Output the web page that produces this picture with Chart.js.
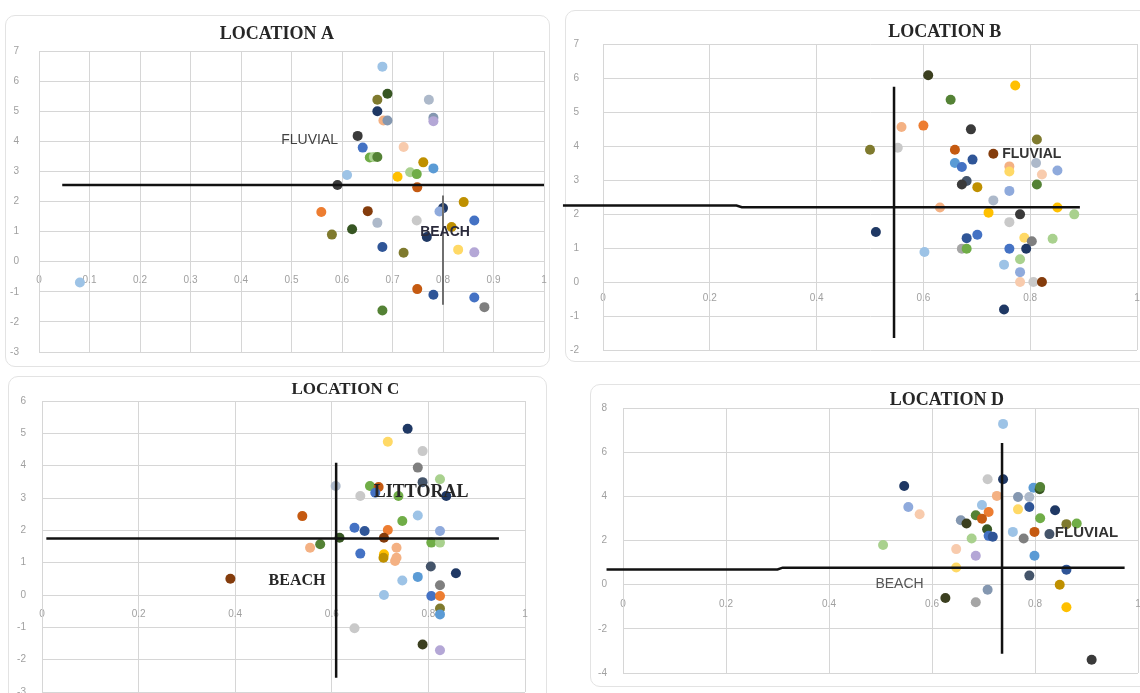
<!DOCTYPE html>
<html>
<head>
<meta charset="utf-8">
<title>Locations A-D</title>
<script src="https://cdn.jsdelivr.net/npm/chart.js@4.4.1/dist/chart.umd.min.js"></script>
<style>
  body { margin: 0; width: 1140px; height: 693px; overflow: hidden; background: #fff; position: relative; }
  .card { position: absolute; border: 1px solid #e3e3e3; border-radius: 10px; background: #fff; }
  canvas { position: absolute; }
</style>
</head>
<body>
<div class="card" style="left:5px;top:15px;width:543px;height:350px"></div>
<div class="card" style="left:565px;top:10px;width:590px;height:350px"></div>
<div class="card" style="left:8px;top:376px;width:537px;height:340px"></div>
<div class="card" style="left:590px;top:384px;width:570px;height:301px"></div>
<canvas id="chartA" width="560" height="400" style="left:0;top:0"></canvas>
<canvas id="chartB" width="620" height="400" style="left:560px;top:0"></canvas>
<canvas id="chartC" width="560" height="380" style="left:0;top:370px"></canvas>
<canvas id="chartD" width="580" height="380" style="left:580px;top:370px"></canvas>
<script>
// ---- data ----
const locationA_x = [0.68, 0.69, 0.67, 0.772, 0.67, 0.682, 0.69, 0.781, 0.781, 0.631,
  0.641, 0.722, 0.655, 0.663, 0.67, 0.761, 0.781, 0.61, 0.71, 0.735,
  0.748, 0.591, 0.749, 0.841, 0.80, 0.793, 0.559, 0.651, 0.862, 0.748,
  0.67, 0.62, 0.58, 0.768, 0.817, 0.68, 0.722, 0.83, 0.862, 0.749,
  0.781, 0.862, 0.882, 0.68, 0.081];
const locationA_y = [6.48, 5.58, 5.38, 5.38, 5.0, 4.69, 4.69, 4.78, 4.67, 4.18,
  3.79, 3.81, 3.46, 3.48, 3.48, 3.3, 3.1, 2.88, 2.82, 2.97,
  2.91, 2.55, 2.47, 1.98, 1.78, 1.67, 1.65, 1.68, 1.37, 1.37,
  1.29, 1.08, 0.9, 0.82, 1.15, 0.49, 0.3, 0.4, 0.31, -0.91,
  -1.1, -1.19, -1.51, -1.62, -0.69];

const locationB_x = [0.609, 0.772, 0.651, 0.559, 0.600, 0.689, 0.8125, 0.5, 0.552, 0.659,
  0.731, 0.692, 0.659, 0.672, 0.761, 0.761, 0.811, 0.822, 0.851, 0.681,
  0.672, 0.701, 0.8125, 0.761, 0.731, 0.631, 0.722, 0.781, 0.851, 0.8825,
  0.761, 0.511, 0.681, 0.701, 0.789, 0.803, 0.842, 0.602, 0.672, 0.681,
  0.761, 0.7925, 0.781, 0.751, 0.781, 0.781, 0.806, 0.822, 0.751];
const locationB_y = [6.08, 5.78, 5.36, 4.56, 4.6, 4.49, 4.19, 3.89, 3.95, 3.89,
  3.77, 3.6, 3.5, 3.38, 3.4, 3.25, 3.5, 3.16, 3.28, 2.97,
  2.87, 2.79, 2.87, 2.68, 2.4, 2.19, 2.04, 1.99, 2.19, 1.99,
  1.76, 1.47, 1.29, 1.39, 1.3, 1.2, 1.27, 0.88, 0.98, 0.98,
  0.98, 0.98, 0.67, 0.51, 0.29, 0, 0, 0, -0.81];

const locationC_x = [0.757, 0.716, 0.788, 0.778, 0.824, 0.788, 0.608, 0.679, 0.697, 0.69,
  0.659, 0.738, 0.837, 0.539, 0.778, 0.746, 0.647, 0.668, 0.716, 0.824,
  0.616, 0.708, 0.576, 0.555, 0.806, 0.824, 0.734, 0.659, 0.708, 0.734,
  0.707, 0.731, 0.805, 0.857, 0.778, 0.746, 0.824, 0.708, 0.806, 0.824,
  0.824, 0.824, 0.647, 0.788, 0.824, 0.39];
const locationC_y = [5.14, 4.74, 4.45, 3.94, 3.58, 3.49, 3.37, 3.37, 3.34, 3.16,
  3.06, 3.06, 3.06, 2.44, 2.46, 2.29, 2.08, 1.98, 2.01, 1.98,
  1.77, 1.77, 1.57, 1.46, 1.62, 1.62, 1.46, 1.28, 1.26, 1.15,
  1.15, 1.05, 0.88, 0.67, 0.56, 0.45, 0.3, 0, -0.03, -0.03,
  -0.42, -0.6, -1.03, -1.53, -1.71, 0.5];

const locationD_x = [0.738, 0.708, 0.738, 0.546, 0.797, 0.809, 0.81, 0.726, 0.767, 0.789,
  0.554, 0.576, 0.697, 0.71, 0.767, 0.789, 0.839, 0.685, 0.697, 0.656,
  0.667, 0.81, 0.861, 0.881, 0.707, 0.71, 0.718, 0.757, 0.799, 0.828,
  0.778, 0.677, 0.505, 0.647, 0.685, 0.799, 0.647, 0.861, 0.789, 0.848,
  0.708, 0.626, 0.685, 0.861, 0.91];
const locationD_y = [7.28, 4.77, 4.77, 4.47, 4.39, 4.32, 4.42, 4.02, 3.97, 3.97,
  3.52, 3.19, 3.61, 3.29, 3.41, 3.52, 3.37, 3.14, 2.99, 2.92,
  2.77, 3.01, 2.74, 2.77, 2.51, 2.21, 2.17, 2.39, 2.39, 2.29,
  2.09, 2.09, 1.8, 1.61, 1.31, 1.31, 0.78, 0.68, 0.41, 0,
  -0.23, -0.6, -0.8, -1.02, -3.4];

// divider lines, in data units
const locationA_hLine = [[0.046, 2.55], [1.0, 2.55]];
const locationA_vLine = [[0.8, 2.2], [0.8, -1.43]];
const locationB_hLine = [[-0.075, 2.25], [0.25, 2.25], [0.26, 2.2], [0.893, 2.2]];
const locationB_vLine = [[0.545, 5.74], [0.545, -1.65]];
const locationC_hLine = [[0.009, 1.75], [0.946, 1.75]];
const locationC_vLine = [[0.609, 4.09], [0.609, -2.56]];
const locationD_hLine = [[-0.032, 0.69], [0.3, 0.69], [0.31, 0.77], [0.974, 0.77]];
const locationD_vLine = [[0.736, 6.42], [0.736, -3.13]];

// tick labels
const xTicksTenths = [0, 0.1, 0.2, 0.3, 0.4, 0.5, 0.6, 0.7, 0.8, 0.9, 1];
const xTicksFifths = [0, 0.2, 0.4, 0.6, 0.8, 1];
const yTicksA = [-3, -2, -1, 0, 1, 2, 3, 4, 5, 6, 7];
const yTicksB = [-2, -1, 0, 1, 2, 3, 4, 5, 6, 7];
const yTicksC = [-3, -2, -1, 0, 1, 2, 3, 4, 5, 6];
const yTicksD = [-4, -2, 0, 2, 4, 6, 8];

// ---- styles ----
const palette = {
  nv: '#1f3864', db: '#2f5597', bl: '#4472c4', sb: '#5b9bd5', lb: '#9dc3e6',
  pb: '#8faadc', gb: '#8497b0', bg: '#adb9ca', lp: '#b4a7d6', sl: '#44546a',
  or: '#ed7d31', br: '#c55a11', dr: '#843c0c', lo: '#f4b183', sa: '#f8cbad',
  gd: '#ffc000', ly: '#ffd966', dy: '#bf9000', gr: '#70ad47', lgr: '#a9d18e',
  og: '#548235', dg: '#375623', ol: '#7f7a2e', do: '#3b3f1f', gy: '#a5a5a5',
  lg: '#c9c9c9', dgy: '#7f7f7f', dk: '#3a3a3a'
};
const colorsA = ['lb','dg','ol','bg','nv','lo','gb','gb','lp','dk', 'bl','sa','gr','lgr','og','dy','sb','lb','gd','lgr',
  'gr','dk','br','dy','nv','pb','or','dr','bl','lg', 'bg','dg','ol','nv','dy','db','ol','ly','lp','br', 'db','bl','dgy','og','lb'];
const colorsB = ['do','gd','og','lo','or','dk','ol','ol','lg','br', 'dr','db','sb','bl','lo','ly','bg','sa','pb','sl',
  'dk','dy','og','pb','bg','lo','gd','dk','gd','lgr', 'lg','nv','db','bl','ly','dgy','lgr','lb','gy','gr',
  'bl','nv','lgr','lb','pb','sa','lg','dr','nv'];
const colorsC = ['nv','ly','lg','dgy','lgr','sl','bg','gr','br','bl', 'lg','gr','nv','br','lb','gr','bl','db','or','pb',
  'dg','dr','og','lo','gr','lgr','lo','bl','gd','lo', 'dy','lo','sl','nv','sb','lb','dgy','lb','bl','or',
  'ol','sb','lg','do','lp','dr'];
const colorsD = ['lb','lg','nv','nv','sb','dg','og','lo','gb','bg', 'pb','sa','lb','or','ly','db','nv','og','br','gb',
  'do','gr','ol','gr','dg','bl','db','lb','br','sl', 'dgy','lgr','lgr','sa','lp','sb','ly','db','sl','dy',
  'gb','do','gy','gd','dk'];

const titleFont = '700 18px "Liberation Serif"';
const sans = '"Liberation Sans", Arial, sans-serif';
const serif = '"Liberation Serif", "Times New Roman", serif';

/** Draws the panel title and the in-plot labels on top of the datasets. */
const panelText = {
  id: 'panelText',
  afterDatasetsDraw(chart, args, opts) {
    const {ctx, chartArea, scales} = chart;
    ctx.save();
    ctx.textAlign = 'center';
    ctx.textBaseline = 'middle';
    ctx.font = opts.titleFont;
    ctx.fillStyle = '#262626';
    ctx.fillText(opts.title, chartArea.left + opts.titleX * chartArea.width, chartArea.top - opts.titleDy);
    opts.labels.forEach(l => {
      ctx.font = l.font;
      ctx.fillStyle = l.color;
      ctx.fillText(l.text, scales.x.getPixelForValue(l.x), scales.y.getPixelForValue(l.y));
    });
    ctx.restore();
  }
};

function toPoints(xs, ys) {
  return xs.map((x, i) => ({x: x, y: ys[i]}));
}

function lineSet(pairs, color, width) {
  return {
    data: pairs.map(p => ({x: p[0], y: p[1]})),
    showLine: true,
    borderColor: color,
    borderWidth: width,
    pointRadius: 0,
    tension: 0,
    clip: false,
    order: 0
  };
}

/** Builds one location panel. */
function makePanel(p) {
  const ctx = document.getElementById(p.id);
  const data = {
    datasets: [
      lineSet(p.hLine, '#111', 2.5),
      lineSet(p.vLine, p.vColor, p.vWidth),
      {
        data: toPoints(p.xs, p.ys),
        backgroundColor: p.colors.map(k => palette[k]),
        borderWidth: 0,
        pointRadius: 5,
        pointHoverRadius: 5,
        order: 1
      }
    ]
  };

  const config = {
    type: 'scatter',
    data: data,
    plugins: [panelText],
    options: {
      responsive: false,
      animation: false,
      events: [],
      layout: {padding: p.padding},
      plugins: {
        legend: {display: false},
        tooltip: {enabled: false},
        panelText: {
          title: p.title, titleFont: p.titleFont || titleFont,
          titleX: p.titleX, titleDy: p.titleDy, labels: p.labels
        }
      },
      scales: {
        x: {
          type: 'linear',
          axis: 'x',
          position: {y: 0},
          min: 0,
          max: 1,
          afterBuildTicks: axis => { axis.ticks = p.xTicks.map(v => ({value: v})); },
          afterFit: axis => { axis.paddingLeft = 0; axis.paddingRight = 0; },
          grid: {color: '#d6d6d6', drawTicks: false},
          border: {color: '#d6d6d6'},
          ticks: {color: '#a0a0a0', font: {family: sans, size: 10}, padding: p.xPad, maxRotation: 0,
            callback: v => String(v)}
        },
        y: {
          type: 'linear',
          position: 'left',
          min: p.yTicks[0],
          max: p.yTicks[p.yTicks.length - 1],
          afterBuildTicks: axis => { axis.ticks = p.yTicks.map(v => ({value: v})); },
          afterFit: axis => { axis.width = p.yWidth; axis.paddingTop = 0; axis.paddingBottom = 0; },
          grid: {color: '#d6d6d6', drawTicks: false},
          border: {color: '#d6d6d6'},
          ticks: {color: '#a0a0a0', font: {family: sans, size: 10}, padding: p.yPad,
            callback: v => String(v)}
        }
      }
    }
  };

  new Chart(ctx, config);
}

makePanel({
  id: 'chartA', title: 'LOCATION A', titleX: 0.471, titleDy: 17,
  xs: locationA_x, ys: locationA_y, colors: colorsA,
  hLine: locationA_hLine, vLine: locationA_vLine, vColor: '#6f6f6f', vWidth: 2,
  xTicks: xTicksTenths, yTicks: yTicksA,
  padding: {top: 51, right: 16, bottom: 48, left: 0}, yWidth: 39, yPad: 20, xPad: 13,
  labels: [
    {text: 'FLUVIAL', x: 0.536, y: 4.05, font: '400 14px ' + sans, color: '#404040'},
    {text: 'BEACH', x: 0.804, y: 0.99, font: '700 14px ' + sans, color: '#2b2b3c'}
  ]
});

makePanel({
  id: 'chartB', title: 'LOCATION B', titleX: 0.64, titleDy: 12,
  xs: locationB_x, ys: locationB_y, colors: colorsB,
  hLine: locationB_hLine, vLine: locationB_vLine, vColor: '#111', vWidth: 2.5,
  xTicks: xTicksFifths, yTicks: yTicksB,
  padding: {top: 44, right: 43, bottom: 50, left: 0}, yWidth: 43, yPad: 24, xPad: 10,
  labels: [
    {text: 'FLUVIAL', x: 0.803, y: 3.77, font: '700 14px ' + sans, color: '#333'}
  ]
});

makePanel({
  id: 'chartC', title: 'LOCATION C', titleFont: '700 17px "Liberation Serif"', titleX: 0.628, titleDy: 11,
  xs: locationC_x, ys: locationC_y, colors: colorsC,
  hLine: locationC_hLine, vLine: locationC_vLine, vColor: '#111', vWidth: 2.5,
  xTicks: xTicksFifths, yTicks: yTicksC,
  padding: {top: 31, right: 35, bottom: 58, left: 0}, yWidth: 42, yPad: 16, xPad: 13,
  labels: [
    {text: 'LITTORAL', x: 0.785, y: 3.16, font: '700 18px ' + serif, color: '#262626'},
    {text: 'BEACH', x: 0.528, y: 0.45, font: '700 16px ' + serif, color: '#262626'}
  ]
});

makePanel({
  id: 'chartD', title: 'LOCATION D', titleX: 0.629, titleDy: 8,
  xs: locationD_x, ys: locationD_y, colors: colorsD,
  hLine: locationD_hLine, vLine: locationD_vLine, vColor: '#111', vWidth: 2.5,
  xTicks: xTicksFifths, yTicks: yTicksD,
  padding: {top: 38, right: 22, bottom: 77, left: 0}, yWidth: 43, yPad: 16, xPad: 14,
  labels: [
    {text: 'FLUVIAL', x: 0.90, y: 2.36, font: '700 15px ' + sans, color: '#333'},
    {text: 'BEACH', x: 0.537, y: 0.03, font: '400 14px ' + sans, color: '#555'}
  ]
});
</script>
</body>
</html>
